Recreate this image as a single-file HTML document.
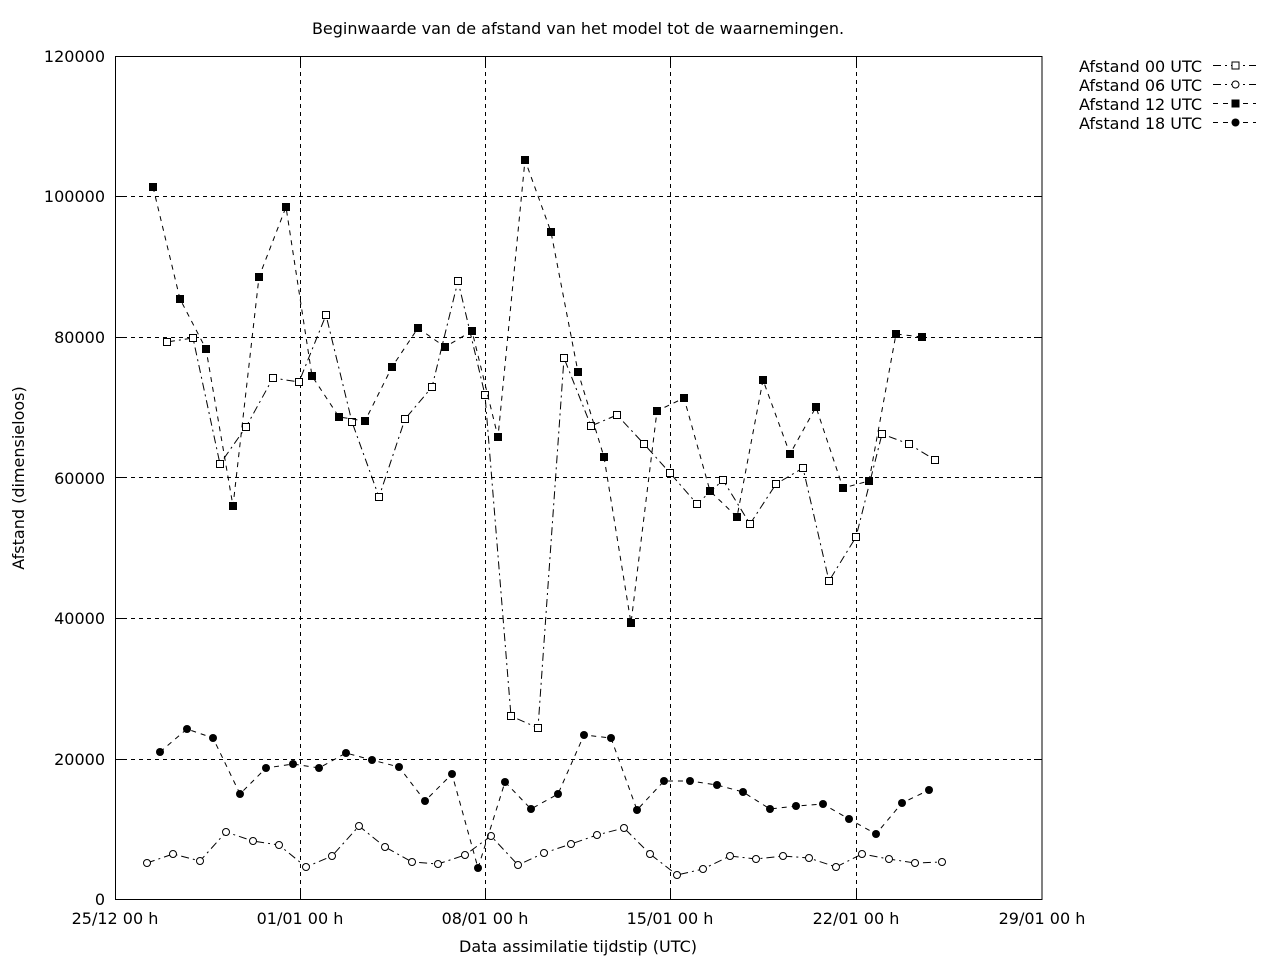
<!DOCTYPE html>
<html><head><meta charset="utf-8"><style>
html,body{margin:0;padding:0;background:#fff}
svg{display:block}
text{font-family:"DejaVu Sans","Liberation Sans",sans-serif;font-size:16px;fill:#000}
</style></head><body>
<svg width="1280" height="960" viewBox="0 0 1280 960" xmlns="http://www.w3.org/2000/svg">
<defs>
<marker id="os" markerUnits="userSpaceOnUse" markerWidth="10" markerHeight="10" refX="5" refY="5"><rect x="1.5" y="1.5" width="7" height="7" fill="#fff" stroke="#000" stroke-width="1"/></marker>
<marker id="oc" markerUnits="userSpaceOnUse" markerWidth="10" markerHeight="10" refX="5" refY="5"><circle cx="5" cy="5" r="3.5" fill="#fff" stroke="#000" stroke-width="1"/></marker>
<marker id="fs" markerUnits="userSpaceOnUse" markerWidth="10" markerHeight="10" refX="5" refY="5"><rect x="1" y="1" width="8" height="8" fill="#000"/></marker>
<marker id="fc" markerUnits="userSpaceOnUse" markerWidth="10" markerHeight="10" refX="5" refY="5"><circle cx="5" cy="5" r="4" fill="#000"/></marker>
</defs>
<rect x="0" y="0" width="1280" height="960" fill="#fff"/>
<g stroke="#000" stroke-width="1" stroke-dasharray="4,4" fill="none">
<line x1="115" y1="196.5" x2="1042" y2="196.5"/><line x1="115" y1="337.5" x2="1042" y2="337.5"/>
<line x1="115" y1="477.5" x2="1042" y2="477.5"/><line x1="115" y1="618.5" x2="1042" y2="618.5"/>
<line x1="115" y1="759.5" x2="1042" y2="759.5"/>
<line x1="300.5" y1="56" x2="300.5" y2="899"/><line x1="485.5" y1="56" x2="485.5" y2="899"/>
<line x1="670.5" y1="56" x2="670.5" y2="899"/><line x1="856.5" y1="56" x2="856.5" y2="899"/>
</g>
<rect x="115.5" y="56.5" width="926.5" height="843" fill="none" stroke="#000" stroke-width="1"/>
<g stroke="#000" stroke-width="1">
<line x1="115" y1="196.5" x2="123" y2="196.5"/><line x1="115" y1="337.5" x2="123" y2="337.5"/><line x1="115" y1="477.5" x2="123" y2="477.5"/><line x1="115" y1="618.5" x2="123" y2="618.5"/><line x1="115" y1="759.5" x2="123" y2="759.5"/>
<line x1="1042" y1="196.5" x2="1034" y2="196.5"/><line x1="1042" y1="337.5" x2="1034" y2="337.5"/><line x1="1042" y1="477.5" x2="1034" y2="477.5"/><line x1="1042" y1="618.5" x2="1034" y2="618.5"/><line x1="1042" y1="759.5" x2="1034" y2="759.5"/>
<line x1="300.5" y1="899" x2="300.5" y2="891"/><line x1="485.5" y1="899" x2="485.5" y2="891"/><line x1="670.5" y1="899" x2="670.5" y2="891"/><line x1="856.5" y1="899" x2="856.5" y2="891"/>
<line x1="300.5" y1="56" x2="300.5" y2="64"/><line x1="485.5" y1="56" x2="485.5" y2="64"/><line x1="670.5" y1="56" x2="670.5" y2="64"/><line x1="856.5" y1="56" x2="856.5" y2="64"/>
</g>
<g text-anchor="end">
<text x="105" y="62">120000</text><text x="105" y="202">100000</text><text x="105" y="343">80000</text><text x="105" y="484">60000</text><text x="105" y="624">40000</text><text x="105" y="765">20000</text><text x="105" y="905">0</text>
</g>
<g text-anchor="middle">
<text x="115" y="924">25/12 00 h</text><text x="300" y="924">01/01 00 h</text><text x="485" y="924">08/01 00 h</text><text x="670" y="924">15/01 00 h</text><text x="856" y="924">22/01 00 h</text><text x="1042" y="924">29/01 00 h</text>
<text x="578" y="952">Data assimilatie tijdstip (UTC)</text>
<text x="578" y="34">Beginwaarde van de afstand van het model tot de waarnemingen.</text>
<text transform="translate(24,478) rotate(-90)">Afstand (dimensieloos)</text>
</g>
<g fill="none" stroke="#000" stroke-width="1">
<polyline stroke-dasharray="8,4,2,4" marker-start="url(#os)" marker-mid="url(#os)" marker-end="url(#os)" points="167,342 193,338 220,464 246,427 273,378 299,382 326,315 352,422 379,497 405,419 432,387 458,281 485,395 511,716 538,728 564,358 591,426 617,415 644,444 670,473 697,504 723,480 750,524 776,484 803,468 829,581 856,537 882,434 909,444 935,460"/>
<polyline stroke-dasharray="8,4,2,4" marker-start="url(#oc)" marker-mid="url(#oc)" marker-end="url(#oc)" points="147,863 173,854 200,861 226,832 253,841 279,845 306,867 332,856 359,826 385,847 412,862 438,864 465,855 491,836 518,865 544,853 571,844 597,835 624,828 650,854 677,875 703,869 730,856 756,859 783,856 809,858 836,867 862,854 889,859 915,863 942,862"/>
<polyline stroke-dasharray="5,5" marker-start="url(#fs)" marker-mid="url(#fs)" marker-end="url(#fs)" points="153,187 180,299 206,349 233,506 259,277 286,207 312,376 339,417 365,421 392,367 418,328 445,347 472,331 498,437 525,160 551,232 578,372 604,457 631,623 657,411 684,398 710,491 737,517 763,380 790,454 816,407 843,488 869,481 896,334 922,337"/>
<polyline stroke-dasharray="5,5" marker-start="url(#fc)" marker-mid="url(#fc)" marker-end="url(#fc)" points="160,752 187,729 213,738 240,794 266,768 293,764 319,768 346,753 372,760 399,767 425,801 452,774 478,868 505,782 531,809 558,794 584,735 611,738 637,810 664,781 690,781 717,785 743,792 770,809 796,806 823,804 849,819 876,834 902,803 929,790"/>
</g>
<g text-anchor="end">
<text x="1202" y="72">Afstand 00 UTC</text><text x="1202" y="91">Afstand 06 UTC</text><text x="1202" y="110">Afstand 12 UTC</text><text x="1202" y="129">Afstand 18 UTC</text>
</g>
<g fill="none" stroke="#000" stroke-width="1">
<line x1="1213" y1="65.5" x2="1256" y2="65.5" stroke-dasharray="8,4,2,4"/>
<line x1="1213" y1="84.5" x2="1256" y2="84.5" stroke-dasharray="8,4,2,4"/>
<line x1="1213" y1="103.5" x2="1256" y2="103.5" stroke-dasharray="5,5"/>
<line x1="1213" y1="122.5" x2="1256" y2="122.5" stroke-dasharray="5,5"/>
<rect x="1232" y="62" width="7" height="7" fill="#fff"/>
<circle cx="1235.5" cy="84.5" r="3.5" fill="#fff"/>
<rect x="1231.5" y="99.5" width="8" height="8" fill="#000" stroke="none"/>
<circle cx="1235.5" cy="122.5" r="4" fill="#000" stroke="none"/>
</g>
</svg>
</body></html>
